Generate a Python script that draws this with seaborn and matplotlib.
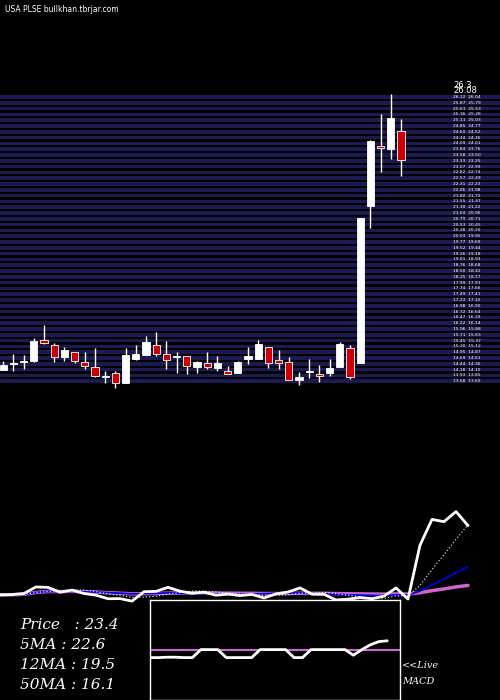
import numpy as np
import pandas as pd
import matplotlib
matplotlib.use("Agg")
import matplotlib.pyplot as plt
import seaborn as sns

opens  = [14.17,14.44,14.52,14.55,15.50,15.28,14.72,14.97,14.53,14.31,13.86,14.05,13.59,14.65,14.83,15.28,14.88,14.74,14.80,14.30,
          14.49,14.25,14.11,14.03,14.65,14.65,15.19,14.59,14.50,13.74,14.06,14.00,14.03,14.30,15.12,14.47,21.34,23.97,23.85,24.63]
closes = [14.40,14.44,14.58,15.43,15.37,14.75,15.02,14.58,14.36,13.90,13.92,13.59,14.81,14.85,15.38,14.88,14.61,14.74,14.36,14.50,
          14.31,14.46,14.00,14.53,14.77,15.30,14.49,14.47,13.74,13.84,14.06,13.90,14.24,15.30,13.86,20.84,24.18,23.89,25.20,23.38]
highs  = [14.58,14.88,14.81,15.56,16.12,15.37,15.19,14.97,14.94,15.12,14.11,14.11,15.12,15.25,15.65,15.82,15.43,14.94,14.80,14.58,
          14.97,14.77,14.36,14.58,15.16,15.50,15.19,15.02,14.75,14.06,14.66,14.40,14.63,15.41,15.24,20.84,24.26,25.37,26.25,25.14]
lows   = [14.17,14.14,14.23,14.50,15.31,14.52,14.58,14.47,14.23,13.86,13.59,13.39,13.59,14.61,14.83,14.78,14.21,14.03,13.99,14.02,
          14.23,14.14,14.00,14.03,14.42,14.65,14.25,14.21,13.74,13.52,13.81,13.64,13.90,14.30,13.78,14.47,20.37,22.84,23.39,22.66]
macd_line = [-1,-1,-0.95,-0.95,-1,-1,0,0,0,-1,-1,-1,-1,0,0,0,0,-1,-1,0,0,0,0,0,-0.7,0,0.6,1.0,1.1]
info_labels = ["Price   : 23.4", "5MA : 22.6", "12MA : 19.5", "50MA : 16.1"]

sns.set_style("dark")
plt.rcParams['font.family'] = ['DejaVu Sans']
fig = plt.figure(figsize=(5, 7), dpi=100, facecolor='black')

def axes_px(x, y, w, h):
    return fig.add_axes([x/500, 1-(y+h)/700, w/500, h/700])

# ---- price panel
ax = axes_px(0, 80, 500, 315)
ax.set_facecolor('black')
n = len(closes)
idx = np.arange(n)
ax.set_xlim(-0.32, 48.7)
ax.set_ylim(13.07, 26.87)
period = (26.3-13.6)/50
for k in range(50):
    b = 13.6 + k*period
    ax.axhspan(b, b+0.62*period, color='#1b1b52', lw=0, zorder=0)
o = np.array(opens); c = np.array(closes)
up = c >= o
ax.vlines(idx, lows, highs, color='white', lw=1, zorder=2)
bottom = np.minimum(o, c)
height = np.maximum(np.abs(c-o), 0.05)
ax.bar(idx[up], height[up], bottom=bottom[up], width=0.7, color='white', edgecolor='white', lw=0.6, zorder=3)
ax.bar(idx[~up], height[~up], bottom=bottom[~up], width=0.7, color='#cc0000', edgecolor='white', lw=0.6, zorder=3)
for k in range(50):
    v = 13.6 + (k+0.3)*period
    ax.text(44.1, v, f"{v:.2f}  {v-0.08:.2f}", color='white', fontsize=3.2, va='center', ha='left')
ax.text(44.1, 26.62, "26.3", color='white', fontsize=6, va='center')
ax.text(44.1, 26.42, "26.08", color='white', fontsize=6, va='center')
ax.set_xticks([]); ax.set_yticks([])
for s in ax.spines.values(): s.set_visible(False)

fig.text(0.01, 1-10/700, "USA PLSE bullkhan.tbrjar.com", color='white', fontsize=5.5, va='center')

# ---- MA panel
df = pd.DataFrame({'i': idx, 'close': closes})
df['ma5'] = df['close'].rolling(5, min_periods=1).mean()
df['ma12'] = df['close'].rolling(12, min_periods=1).mean()
df['ma50'] = df['close'].rolling(50, min_periods=1).mean()
ax2 = axes_px(0, 500, 500, 110)
ax2.set_facecolor('black')
ax2.set_xlim(0, 500/12)
ax2.set_ylim(12.44, 26.7)
sns.lineplot(data=df, x='i', y='ma50', ax=ax2, color='#cc66cc', lw=2.5)
sns.lineplot(data=df, x='i', y='ma12', ax=ax2, color='#0000dd', lw=1.3)
sns.lineplot(data=df, x='i', y='ma5', ax=ax2, color='white', lw=0.8, linestyle=(0, (1, 2)))
sns.lineplot(data=df, x='i', y='close', ax=ax2, color='white', lw=2)
ax2.set_xticks([]); ax2.set_yticks([]); ax2.set_xlabel(''); ax2.set_ylabel('')
for s in ax2.spines.values(): s.set_visible(False)

# ---- MACD box
ax3 = axes_px(150, 600, 250, 100)
ax3.set_facecolor('black')
m = pd.DataFrame({'i': np.arange(len(macd_line)), 'v': macd_line})
ax3.set_xlim(0, len(macd_line)+0.5)
ax3.set_ylim(-6.3, 6.2)
ax3.axhline(0, color='#cc66cc', lw=1.5)
sns.lineplot(data=m, x='i', y='v', ax=ax3, color='white', lw=2)
ax3.set_xticks([]); ax3.set_yticks([]); ax3.set_xlabel(''); ax3.set_ylabel('')
for s in ax3.spines.values():
    s.set_color('white'); s.set_linewidth(1)

for j, t in enumerate(info_labels):
    fig.text(20/500, 1-(625+20*j)/700, t, color='white', fontsize=11, family='DejaVu Serif', style='italic', va='center')
fig.text(402/500, 1-666/700, "<<Live", color='white', fontsize=7, family='DejaVu Serif', style='italic', va='center')
fig.text(402/500, 1-681/700, "MACD", color='white', fontsize=7, family='DejaVu Serif', style='italic', va='center')

fig.savefig("out.png", dpi=100, facecolor='black')
